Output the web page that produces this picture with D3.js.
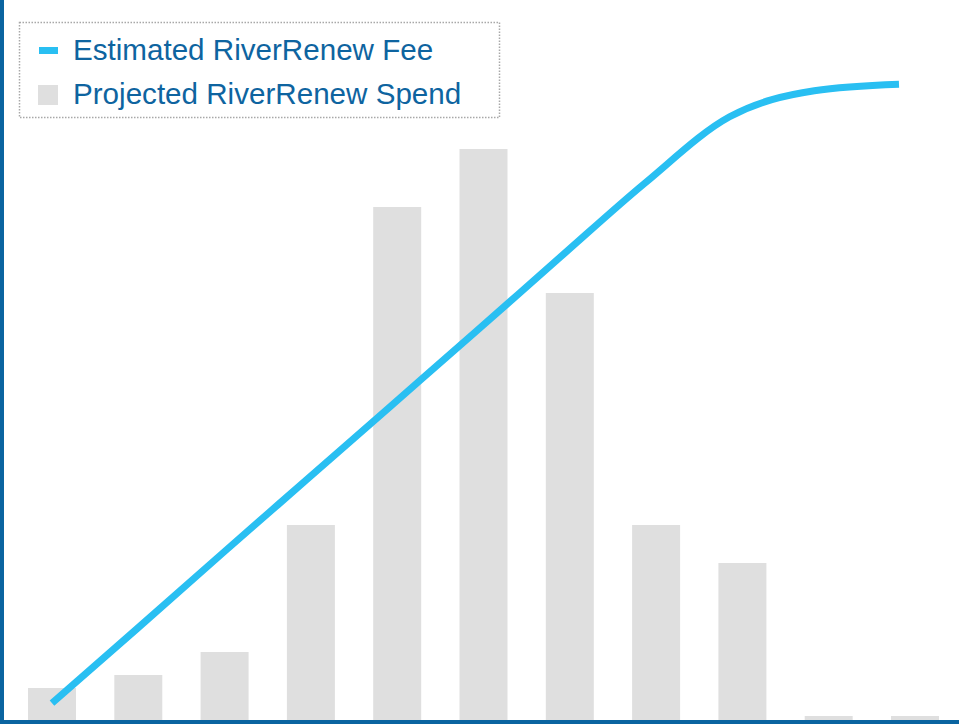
<!DOCTYPE html>
<html>
<head>
<meta charset="utf-8">
<script src="https://cdn.jsdelivr.net/npm/d3@7"></script>
<style>
  html, body { margin: 0; padding: 0; background: #fff; }
  svg { display: block; }
</style>
</head>
<body>
<div id="chart"></div>
<script>
// years along the bottom (no labels shown in the picture)
var years = ["Y1","Y2","Y3","Y4","Y5","Y6","Y7","Y8","Y9","Y10","Y11"];
// projected spend
var spend = [32, 45, 68, 195, 513, 571, 427, 195, 157, 4, 4];
// estimated fee (0-100 index)
var fee = [2.6, 14, 25.5, 36.9, 48.3, 59.7, 71.2, 82.6, 92.8, 96.8, 97.8];
var legendLabels = ["Estimated RiverRenew Fee", "Projected RiverRenew Spend"];

var width = 959, height = 725;
var baseY = 720;

var svg = d3.select("#chart").append("svg")
    .attr("width", width)
    .attr("height", height);

var x = d3.scaleBand()
    .domain(years)
    .range([8.85, 958.15])
    .paddingInner(0.444)
    .paddingOuter(0.222);

var ySpend = d3.scaleLinear().domain([0, 600]).range([baseY, 120]);

// the fee line stops a little short of the last bar
var xFee = d3.scalePoint().domain(years).range([52, 899]);
var yFee = d3.scaleLinear().domain([0, 100]).range([baseY, 70]);

svg.selectAll(".bar")
    .data(spend)
    .enter().append("rect")
    .attr("class", "bar")
    .attr("x", function(d, i) { return x(years[i]); })
    .attr("y", function(d) { return ySpend(d); })
    .attr("width", x.bandwidth())
    .attr("height", function(d) { return baseY - ySpend(d); })
    .style("fill", "#dfdfdf");

var line = d3.line()
    .x(function(d, i) { return xFee(years[i]); })
    .y(function(d) { return yFee(d); })
    .curve(d3.curveMonotoneX);

svg.append("path")
    .datum(fee)
    .attr("d", line)
    .style("fill", "none")
    .style("stroke", "#29bff2")
    .style("stroke-width", 7);

// axes lines (left and bottom)
svg.append("rect").attr("x", 0).attr("y", 0).attr("width", 4).attr("height", 724).style("fill", "#0a64a0");
svg.append("rect").attr("x", 0).attr("y", baseY).attr("width", width).attr("height", 4).style("fill", "#0a64a0");

// legend
var legend = svg.append("g");
legend.append("rect")
    .attr("x", 19.5).attr("y", 22.5)
    .attr("width", 480).attr("height", 95)
    .style("fill", "#fff")
    .style("stroke", "#a8a8a8")
    .style("stroke-width", 1.5)
    .style("stroke-dasharray", "1.5,1.5");

legend.append("rect").attr("x", 39).attr("y", 47).attr("width", 19).attr("height", 7).style("fill", "#29bff2");
legend.append("rect").attr("x", 38).attr("y", 85).attr("width", 20).attr("height", 20).style("fill", "#dfdfdf");

legend.selectAll("text")
    .data(legendLabels)
    .enter().append("text")
    .attr("x", 73)
    .attr("y", function(d, i) { return 60 + i * 44; })
    .text(function(d) { return d; })
    .style("font-family", "'Liberation Sans', Arial, sans-serif")
    .style("font-size", "29.6px")
    .style("fill", "#0e64a0");
</script>
</body>
</html>
